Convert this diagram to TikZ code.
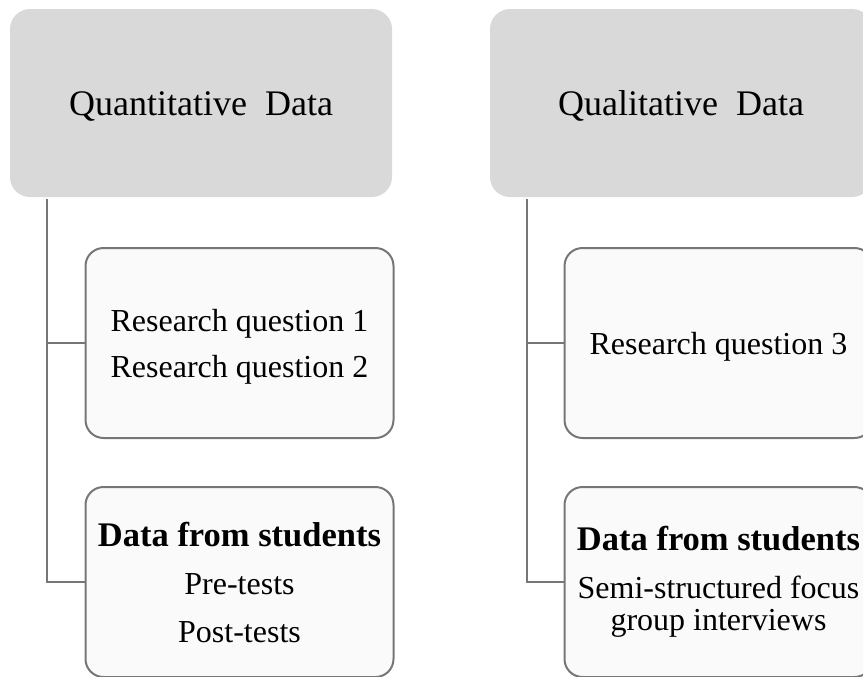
\documentclass[tikz,border=0pt]{standalone}
\usepackage{fontspec}
\setmainfont{Liberation Serif}
\usepackage{tikz}

\definecolor{headgray}{HTML}{D9D9D9}
\definecolor{boxgray}{HTML}{FAFAFA}
\definecolor{linegray}{HTML}{767676}

\tikzset{
  headbox/.style={fill=headgray, rounded corners=10pt, minimum width=191pt, minimum height=94pt,
    font=\fontsize{18}{22}\selectfont, text height=12pt, text depth=0pt},
  itembox/.style={draw=linegray, line width=1pt, fill=boxgray, rounded corners=9pt,
    minimum width=154pt, minimum height=95pt, align=center},
  branch/.style={draw=linegray, line width=1pt},
}

\begin{document}
\begin{tikzpicture}[x=0.5pt,y=-0.5pt]
            \path[use as bounding box, clip] (0,0) rectangle (863,676);
            % quantitative side
            \node[headbox] (quanHead) at (201,103) {Quantitative~~Data};
            \node[itembox, font=\fontsize{16}{23}\selectfont, text depth=0pt] (quanRQ) at (239.5,343)
                {Research question 1\\Research question 2};
            \node[itembox, font=\fontsize{16}{24}\selectfont] (quanData) at (239.5,582)
                {{\fontsize{17.25}{24}\selectfont\bfseries Data from students}\\Pre-tests\\Post-tests};
            \coordinate (quanTrunk) at ([xshift=18.5pt,yshift=-1pt]quanHead.south west);
            \draw[branch] (quanTrunk) |- (quanRQ.west);
            \draw[branch] (quanTrunk) |- (quanData.west);
            % qualitative side
            \node[headbox] (qualHead) at (681,103) {Qualitative~~Data};
            \node[itembox, font=\fontsize{16}{23}\selectfont, text depth=0pt] (qualRQ) at (718.5,343)
                {Research question 3};
            \node[itembox, font=\fontsize{16}{16}\selectfont] (qualData) at (718.5,582)
                {{\fontsize{17.25}{24}\selectfont\bfseries Data from students}\\[8pt]Semi-structured focus\\group interviews};
            \coordinate (qualTrunk) at ([xshift=18.5pt,yshift=-1pt]qualHead.south west);
            \draw[branch] (qualTrunk) |- (qualRQ.west);
            \draw[branch] (qualTrunk) |- (qualData.west);
        \end{tikzpicture}
\end{document}
